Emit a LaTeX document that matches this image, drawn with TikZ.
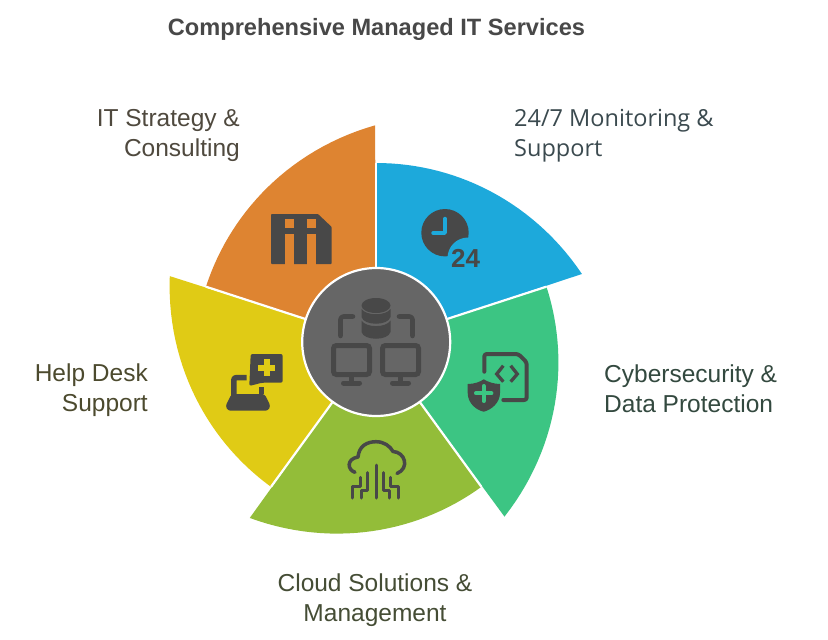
\documentclass[tikz,border=0pt]{standalone}
\usepackage{fontspec}
\setmainfont{Liberation Sans}
\newfontfamily\monitorfont{Open Sans}
\definecolor{monitorblue}{HTML}{1DA9DB}
\definecolor{securegreen}{HTML}{3CC583}
\definecolor{cloudlime}{HTML}{93BD39}
\definecolor{helpyellow}{HTML}{E0CB15}
\definecolor{strategyorange}{HTML}{DE8431}
\definecolor{hubgray}{HTML}{666666}
\definecolor{icongray}{HTML}{484848}
\definecolor{textbrown}{HTML}{4F493E}
\definecolor{textslate}{HTML}{3B4A4F}
\definecolor{textpine}{HTML}{33493F}
\definecolor{textolive}{HTML}{454D35}
\definecolor{textkhaki}{HTML}{4C4A2E}

\begin{document}
\begin{tikzpicture}[x=1pt,y=-1pt,
    servicelabel/.style={font=\fontsize{24.5}{30}\selectfont,inner sep=0pt},
    iconline/.style={draw=icongray,line cap=round,line join=round}]
  \useasboundingbox (0,0) rectangle (828,640);
  \fill[white] (0,0) rectangle (828,640);
  \node[font=\fontsize{23.6}{30}\selectfont\bfseries,text=icongray,inner sep=0pt] (title) at (376.5,29) {Comprehensive Managed IT Services};

  % five sectors, each one grows on its way round
  \begin{scope}[shift={(376.2,342)}]
    \foreach \col/\ang in {monitorblue/-90,securegreen/-18,cloudlime/54,helpyellow/126,strategyorange/198}
      \fill[\col] (0,0) -- plot[domain=0:71.7,samples=30] ({\ang+\x}:{179+38*(\x/72)^2}) -- cycle;
    \foreach \ang in {-90,-18,54,126,198}
      \draw[white,line width=2.2pt] (0,0) -- (\ang:179);
    \node[circle,fill=hubgray,draw=white,line width=2.2pt,minimum size=148pt,inner sep=0pt] (hub) at (0,0) {};
  \end{scope}

  % hub icon
  \fill[icongray] (376,305.5) ellipse [x radius=14.5,y radius=7.5];
  \fill[icongray] (361.5,309) .. controls (366,316) and (386,316) .. (390.5,309) -- (390.5,317) .. controls (388,326) and (364,326) .. (361.5,317) -- cycle;
  \fill[icongray] (361.5,320.5) .. controls (366,328) and (386,328) .. (390.5,320.5) -- (390.5,332) .. controls (388,341) and (364,341) .. (361.5,332) -- cycle;
  \draw[iconline,line width=4.6pt,rounded corners=3pt] (340.5,336) -- (340.5,316.5) -- (353,316.5);
  \draw[iconline,line width=4.6pt,rounded corners=3pt] (399,316.5) -- (412.5,316.5) -- (412.5,336);
  \foreach \mx in {351.5,400.5} {
    \draw[icongray,fill=hubgray,line width=5pt,rounded corners=3pt] (\mx-18,345.5) rectangle (\mx+18,374.5);
    \draw[icongray,line width=4.5pt] (\mx,376) -- (\mx,383);
    \draw[iconline,line width=5pt] (\mx-8,383) -- (\mx+8,383);
  }

  % clock with 24
  \fill[icongray] (445,232.7) circle [radius=23.7];
  \fill[monitorblue] (468,258) circle [radius=20.5];
  \draw[monitorblue,line width=3.4pt,line cap=round,line join=round] (445,218.5) -- (445,233) -- (433,233);
  \node[font=\fontsize{26}{26}\selectfont\bfseries,text=icongray,inner sep=0pt] (hours) at (465.5,258.5) {24};

  % document with shield
  \draw[iconline,line width=4pt,rounded corners=2.5pt] (484.3,371.7) -- (484.3,354) -- (518.3,354) -- (526.7,362.3) -- (526.7,400) -- (503.3,400);
  \draw[iconline,line width=3.3pt,line cap=butt,line join=miter] (503.3,365.7) -- (496.7,374) -- (503.3,381.7);
  \draw[iconline,line width=3.3pt,line cap=butt,line join=miter] (510.7,365.7) -- (517.3,374) -- (510.7,381.7);
  \fill[icongray] (467.7,384) .. controls (474,384) and (480,382) .. (483.7,379.3) .. controls (488,382) and (494,384) .. (500,384) -- (500,393) .. controls (500,403) and (491,410) .. (483.7,411.7) .. controls (476,410) and (467.7,403) .. (467.7,393) -- cycle;
  \draw[securegreen,line width=4pt,line cap=round] (483.7,386) -- (483.7,401) (476,393.3) -- (491.4,393.3);

  % cloud
  \draw[iconline,line width=3.5pt] (355,472.3) .. controls (347.5,470) and (346,459) .. (358,457) .. controls (359,446) and (367,441.7) .. (376,441.7) .. controls (384,441.7) and (390,446) .. (393,451.5) .. controls (405,452) and (410,468) .. (397,473.5);
  \draw[iconline,line width=3pt] (376,465) -- (376,498);
  \draw[iconline,line width=3pt] (367.7,472.7) -- (367.7,490.7) -- (361.7,490.7) -- (361.7,498);
  \draw[iconline,line width=3pt] (360,477.3) -- (360,486.7) -- (352.7,486.7) -- (352.7,498);
  \draw[iconline,line width=3pt] (383.3,472.7) -- (383.3,490.7) -- (389,490.7) -- (389,498);
  \draw[iconline,line width=3pt] (390.7,477.3) -- (390.7,486.7) -- (398.3,486.7) -- (398.3,498);

  % laptop with bubble
  \fill[icongray,rounded corners=2pt] (250.7,354) -- (282.7,354) -- (282.7,382.7) -- (262,382.7) -- (249.3,386) -- cycle;
  \draw[helpyellow,line width=6pt] (266.7,359) -- (266.7,376.4) (258,367.7) -- (275.4,367.7);
  \draw[iconline,line width=5.5pt,line cap=butt,line join=round,rounded corners=2pt] (246.7,377.7) -- (233.9,377.7) -- (233.9,396);
  \fill[icongray] (259,386.7) -- (264.3,386.7) -- (264.3,394) -- (259,394) -- cycle;
  \fill[icongray,rounded corners=2.5pt] (231.5,394) -- (264.5,394) -- (270.5,406) -- (268,410.7) -- (228,410.7) -- (225.5,406) -- cycle;

  % building
  \fill[icongray,rounded corners=0.8pt] (271,214) -- (318,214) -- (331.7,227) -- (331.7,264) -- (271,264) -- cycle;
  \foreach \wx in {285,307.3} {
    \fill[strategyorange] (\wx,219) rectangle (\wx+9,228.3);
    \fill[strategyorange] (\wx,234) rectangle (\wx+9,264.5);
  }

  % labels
  \node[servicelabel,text=textbrown,align=right,anchor=east] (strategy) at (240,135) {IT Strategy \&\\Consulting};
  \node[servicelabel,font=\monitorfont\fontsize{23.5}{30}\selectfont,text=textslate,align=left,anchor=west] (monitoring) at (514,135.5) {24/7 Monitoring \&\\Support};
  \node[servicelabel,text=textpine,align=left,anchor=west] (security) at (604,388.5) {Cybersecurity \&\\Data Protection};
  \node[servicelabel,text=textolive,align=center] (cloudsol) at (375,600) {Cloud Solutions \&\\Management};
  \node[servicelabel,text=textkhaki,align=right,anchor=east] (helpdesk) at (148,390) {Help Desk\\Support};
\end{tikzpicture}
\end{document}
